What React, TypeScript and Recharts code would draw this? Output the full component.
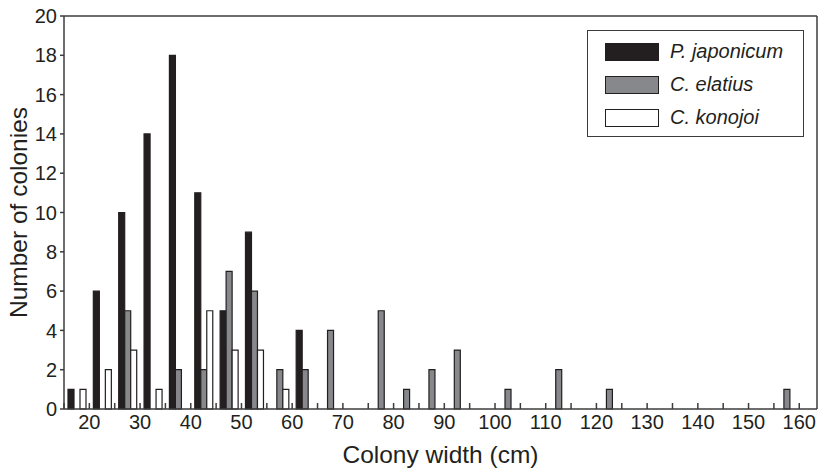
import React from 'react';
import { BarChart, Bar, XAxis, YAxis, ReferenceLine } from 'recharts';

const binCenters = [17.5, 22.5, 27.5, 32.5, 37.5, 42.5, 47.5, 52.5, 57.5, 62.5, 67.5, 72.5, 77.5, 82.5, 87.5, 92.5, 97.5, 102.5, 107.5, 112.5, 117.5, 122.5, 127.5, 132.5, 137.5, 142.5, 147.5, 152.5, 157.5];
const pJaponicum = [1, 6, 10, 14, 18, 11, 5, 9, null, 4, null, null, null, null, null, null, null, null, null, null, null, null, null, null, null, null, null, null, null];
const cElatius = [null, null, 5, null, 2, 2, 7, 6, 2, 2, 4, null, 5, 1, 2, 3, null, 1, null, 2, null, 1, null, null, null, null, null, null, 1];
const cKonojoi = [1, 2, 3, 1, null, 5, 3, 3, 1, null, null, null, null, null, null, null, null, null, null, null, null, null, null, null, null, null, null, null, null];
const xTicks = [15, 20, 25, 30, 35, 40, 45, 50, 55, 60, 65, 70, 75, 80, 85, 90, 95, 100, 105, 110, 115, 120, 125, 130, 135, 140, 145, 150, 155, 160];
const yTicks = [0, 2, 4, 6, 8, 10, 12, 14, 16, 18, 20];
const seriesNames = ['P. japonicum', 'C. elatius', 'C. konojoi'];

const data = binCenters.map((b, i) => ({ bin: b, p: pJaponicum[i], e: cElatius[i], k: cKonojoi[i] }));

const FONT = '"Liberation Sans", Arial, Helvetica, sans-serif';
const INK = '#231f20';
const AXIS = '#3c3c3c';
const colors = ['#231f20', '#87888b', '#ffffff'];

const XTick = (props: any) => {
  const { x, y, payload } = props;
  const v = payload.value;
  return (
    <g>
      <line x1={x} x2={x} y1={y} y2={y - 6} stroke={AXIS} strokeWidth={1.5} />
      {v % 10 === 0 ? (
        <text x={x} y={y + 20} textAnchor="middle" fontFamily={FONT} fontSize={20} fill={INK}>{v}</text>
      ) : null}
    </g>
  );
};

const LegendBox = () => (
  <div style={{ position: 'absolute', left: 587, top: 30, border: `1.3px solid ${AXIS}`, width: 215, height: 101, paddingTop: 4, background: '#fff' }}>
    {seriesNames.map((n, i) => (
      <div key={n} style={{ display: 'flex', alignItems: 'center', height: 33 }}>
        <div style={{ marginLeft: 17, width: 52, height: 16, background: colors[i], border: `1.3px solid ${INK}` }} />
        <span style={{ marginLeft: 11, fontFamily: FONT, fontSize: 20, fontStyle: 'italic', color: INK }}>{n}</span>
      </div>
    ))}
  </div>
);

export default function App() {
  return (
    <div style={{ position: 'absolute', left: 0, top: 0, width: 819, height: 470, background: '#fff' }}>
      <BarChart width={819} height={470} data={data} margin={{ top: 16, right: 2, bottom: 0, left: 0 }} barGap={0}>
        <XAxis
          dataKey="bin"
          type="number"
          domain={[15, 163.5]}
          ticks={xTicks}
          interval={0}
          allowDataOverflow
          height={61}
          tickSize={0}
          tickMargin={0}
          tickLine={false}
          axisLine={{ stroke: AXIS, strokeWidth: 1.5 }}
          tick={<XTick />}
          label={(p: any) => {
            const vb = p.viewBox || {};
            return (
              <text x={vb.x + vb.width / 2} y={vb.y + 54} textAnchor="middle" fontFamily={FONT} fontSize={24.5} fill={INK}>Colony width (cm)</text>
            );
          }}
        />
        <YAxis
          type="number"
          domain={[0, 20]}
          ticks={yTicks}
          interval={0}
          width={64}
          tickSize={4}
          tickMargin={3}
          tickLine={{ stroke: AXIS, strokeWidth: 1.5 }}
          axisLine={{ stroke: AXIS, strokeWidth: 1.5 }}
          tick={{ fontFamily: FONT, fontSize: 20, fill: INK }}
          label={(p: any) => {
            const vb = p.viewBox || {};
            const cx = vb.x + 27;
            const cy = vb.y + vb.height / 2;
            return (
              <text x={cx} y={cy} transform={`rotate(-90 ${cx} ${cy})`} textAnchor="middle" fontFamily={FONT} fontSize={24.5} fill={INK}>Number of colonies</text>
            );
          }}
        />
        <ReferenceLine y={20} stroke={AXIS} strokeWidth={1.5} />
        <ReferenceLine x={163.5} stroke={AXIS} strokeWidth={1.5} />
        <Bar dataKey="p" name={seriesNames[0]} fill={colors[0]} stroke={INK} strokeWidth={1.2} barSize={6} isAnimationActive={false} />
        <Bar dataKey="e" name={seriesNames[1]} fill={colors[1]} stroke={INK} strokeWidth={1.2} barSize={6} isAnimationActive={false} />
        <Bar dataKey="k" name={seriesNames[2]} fill={colors[2]} stroke={INK} strokeWidth={1.2} barSize={6} isAnimationActive={false} />
      </BarChart>
      <LegendBox />
    </div>
  );
}
